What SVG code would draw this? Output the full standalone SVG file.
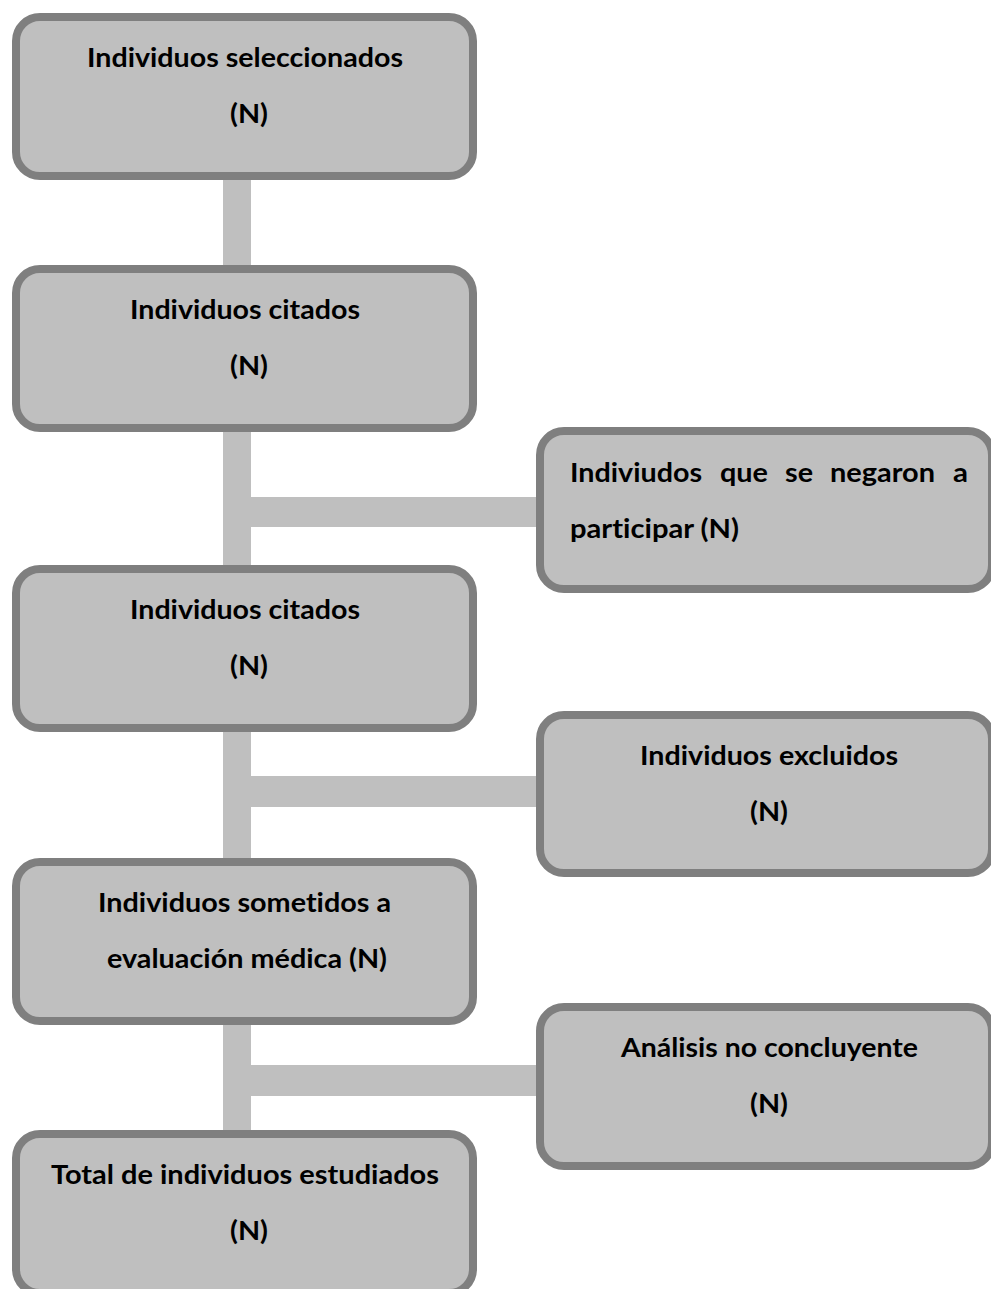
<svg xmlns="http://www.w3.org/2000/svg" width="991" height="1289" viewBox="0 0 991 1289">
<style>
.box{fill:#bfbfbf;stroke:#7f7f7f;stroke-width:8}
.bar{fill:#bfbfbf}
.t{font-family:Lato,"Open Sans","Liberation Sans",sans-serif;font-weight:bold;font-size:27.5px;fill:#000;font-variant-ligatures:none;font-feature-settings:"liga" 0,"dlig" 0}
.c{text-anchor:middle}
</style>
<rect width="991" height="1289" fill="#ffffff"/>
<g id="connectors">
<rect class="bar" x="223" y="176" width="28" height="962"/>
<rect class="bar" x="251" y="497" width="292" height="30"/>
<rect class="bar" x="251" y="776" width="292" height="31"/>
<rect class="bar" x="251" y="1065" width="292" height="31"/>
</g>
<g id="n1">
<rect class="box" x="16" y="17" width="457" height="159" rx="24"/>
<text class="t c" x="245" y="67" textLength="316" lengthAdjust="spacingAndGlyphs">Individuos seleccionados</text>
<text class="t c" x="249" y="123" textLength="38" lengthAdjust="spacingAndGlyphs">(N)</text>
</g>
<g id="n2">
<rect class="box" x="16" y="269" width="457" height="159" rx="24"/>
<text class="t c" x="245" y="319" textLength="230" lengthAdjust="spacingAndGlyphs">Individuos citados</text>
<text class="t c" x="249" y="375" textLength="38" lengthAdjust="spacingAndGlyphs">(N)</text>
</g>
<g id="n3">
<rect class="box" x="16" y="569" width="457" height="159" rx="24"/>
<text class="t c" x="245" y="619" textLength="230" lengthAdjust="spacingAndGlyphs">Individuos citados</text>
<text class="t c" x="249" y="675" textLength="38" lengthAdjust="spacingAndGlyphs">(N)</text>
</g>
<g id="n4">
<rect class="box" x="16" y="862" width="457" height="159" rx="24"/>
<text class="t c" x="244.5" y="912" textLength="293" lengthAdjust="spacingAndGlyphs">Individuos sometidos a</text>
<text class="t c" x="247" y="968" textLength="280" lengthAdjust="spacingAndGlyphs">evaluación médica (N)</text>
</g>
<g id="n5">
<rect class="box" x="16" y="1134" width="457" height="159" rx="24"/>
<text class="t c" x="245" y="1184" textLength="388" lengthAdjust="spacingAndGlyphs">Total de individuos estudiados</text>
<text class="t c" x="249" y="1240" textLength="38" lengthAdjust="spacingAndGlyphs">(N)</text>
</g>
<g id="nA">
<rect class="box" x="540" y="431" width="452" height="158" rx="24"/>
<text class="t" y="482"><tspan x="570" textLength="132" lengthAdjust="spacingAndGlyphs">Indiviudos</tspan><tspan x="720" textLength="48" lengthAdjust="spacingAndGlyphs">que</tspan><tspan x="785" textLength="28" lengthAdjust="spacingAndGlyphs">se</tspan><tspan x="830" textLength="105" lengthAdjust="spacingAndGlyphs">negaron</tspan><tspan x="953" textLength="15" lengthAdjust="spacingAndGlyphs">a</tspan></text>
<text class="t" x="570" y="538" textLength="169" lengthAdjust="spacingAndGlyphs">participar (N)</text>
</g>
<g id="nB">
<rect class="box" x="540" y="715" width="452" height="158" rx="24"/>
<text class="t c" x="769" y="765" textLength="258" lengthAdjust="spacingAndGlyphs">Individuos excluidos</text>
<text class="t c" x="769" y="821" textLength="38" lengthAdjust="spacingAndGlyphs">(N)</text>
</g>
<g id="nC">
<rect class="box" x="540" y="1007" width="452" height="159" rx="24"/>
<text class="t c" x="769.5" y="1057" textLength="297" lengthAdjust="spacingAndGlyphs">Análisis no concluyente</text>
<text class="t c" x="769" y="1113" textLength="38" lengthAdjust="spacingAndGlyphs">(N)</text>
</g>
</svg>
